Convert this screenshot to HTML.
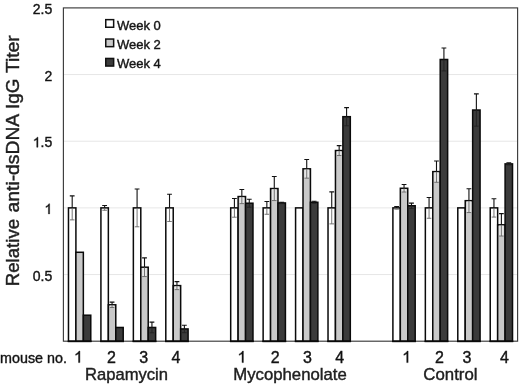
<!DOCTYPE html>
<html><head><meta charset="utf-8"><title>chart</title>
<style>html,body{margin:0;padding:0;background:#fff}body{width:520px;height:384px;overflow:hidden}</style></head>
<body>
<svg width="520" height="384" viewBox="0 0 520 384" style="display:block;filter:blur(0.35px);font-family:'Liberation Sans',sans-serif">
<style>text{stroke:#1a1a1a;stroke-width:0.4px}</style>
<rect width="520" height="384" fill="#fff"/>
<line x1="63.4" x2="517.6" y1="274.54" y2="274.54" stroke="#dfdfdf" stroke-width="0.8"/>
<line x1="63.4" x2="517.6" y1="207.88" y2="207.88" stroke="#dfdfdf" stroke-width="0.8"/>
<line x1="63.4" x2="517.6" y1="141.22" y2="141.22" stroke="#dfdfdf" stroke-width="0.8"/>
<line x1="63.4" x2="517.6" y1="74.56" y2="74.56" stroke="#dfdfdf" stroke-width="0.8"/>
<rect x="63.4" y="7.9" width="454.20" height="333.30" fill="none" stroke="#3c3c3c" stroke-width="1.15"/>
<rect x="68.48" y="207.88" width="7.43" height="133.32" fill="#ffffff" stroke="#0a0a0a" stroke-width="1.5"/>
<rect x="75.91" y="252.28" width="7.43" height="88.92" fill="#c9c9c9" stroke="#0a0a0a" stroke-width="1.5"/>
<rect x="83.34" y="315.20" width="7.43" height="26.00" fill="#3b3b3b" stroke="#0a0a0a" stroke-width="1.5"/>
<path d="M72.19 207.88V219.88M69.89 219.88H74.49" stroke="#666" stroke-width="0.9" fill="none"/>
<path d="M72.19 207.88V195.88M69.79 195.88H74.59" stroke="#111" stroke-width="1.1" fill="none"/>
<rect x="100.92" y="207.88" width="7.43" height="133.32" fill="#ffffff" stroke="#0a0a0a" stroke-width="1.5"/>
<rect x="108.35" y="304.80" width="7.43" height="36.40" fill="#c9c9c9" stroke="#0a0a0a" stroke-width="1.5"/>
<rect x="115.78" y="327.47" width="7.43" height="13.73" fill="#3b3b3b" stroke="#0a0a0a" stroke-width="1.5"/>
<path d="M104.63 207.88V210.28M102.33 210.28H106.93" stroke="#666" stroke-width="0.9" fill="none"/>
<path d="M104.63 207.88V205.48M102.23 205.48H107.03" stroke="#111" stroke-width="1.1" fill="none"/>
<rect x="109.76" y="305.55" width="4.6" height="1.92" fill="#e6e6e6"/>
<path d="M112.06 304.80V307.47M109.76 307.47H114.36" stroke="#666" stroke-width="0.9" fill="none"/>
<path d="M112.06 304.80V302.14M109.66 302.14H114.46" stroke="#111" stroke-width="1.1" fill="none"/>
<rect x="133.36" y="207.88" width="7.43" height="133.32" fill="#ffffff" stroke="#0a0a0a" stroke-width="1.5"/>
<rect x="140.79" y="267.21" width="7.43" height="73.99" fill="#c9c9c9" stroke="#0a0a0a" stroke-width="1.5"/>
<rect x="148.22" y="327.47" width="7.43" height="13.73" fill="#3b3b3b" stroke="#0a0a0a" stroke-width="1.5"/>
<path d="M137.08 207.88V226.81M134.78 226.81H139.38" stroke="#666" stroke-width="0.9" fill="none"/>
<path d="M137.08 207.88V188.95M134.68 188.95H139.48" stroke="#111" stroke-width="1.1" fill="none"/>
<rect x="142.21" y="267.96" width="4.6" height="8.58" fill="#e6e6e6"/>
<path d="M144.51 267.21V276.54M142.21 276.54H146.81" stroke="#666" stroke-width="0.9" fill="none"/>
<path d="M144.51 267.21V257.88M142.11 257.88H146.91" stroke="#111" stroke-width="1.1" fill="none"/>
<path d="M151.94 327.47V332.80M149.64 332.80H154.24" stroke="#222" stroke-width="0.9" fill="none"/>
<path d="M151.94 327.47V322.14M149.54 322.14H154.34" stroke="#111" stroke-width="1.1" fill="none"/>
<rect x="165.80" y="207.88" width="7.43" height="133.32" fill="#ffffff" stroke="#0a0a0a" stroke-width="1.5"/>
<rect x="173.23" y="285.61" width="7.43" height="55.59" fill="#c9c9c9" stroke="#0a0a0a" stroke-width="1.5"/>
<rect x="180.66" y="328.93" width="7.43" height="12.27" fill="#3b3b3b" stroke="#0a0a0a" stroke-width="1.5"/>
<path d="M169.52 207.88V221.48M167.22 221.48H171.82" stroke="#666" stroke-width="0.9" fill="none"/>
<path d="M169.52 207.88V194.28M167.12 194.28H171.92" stroke="#111" stroke-width="1.1" fill="none"/>
<rect x="174.65" y="286.36" width="4.6" height="3.25" fill="#e6e6e6"/>
<path d="M176.95 285.61V289.61M174.65 289.61H179.25" stroke="#666" stroke-width="0.9" fill="none"/>
<path d="M176.95 285.61V281.61M174.55 281.61H179.35" stroke="#111" stroke-width="1.1" fill="none"/>
<path d="M184.38 328.93V332.67M182.08 332.67H186.68" stroke="#222" stroke-width="0.9" fill="none"/>
<path d="M184.38 328.93V325.20M181.98 325.20H186.78" stroke="#111" stroke-width="1.1" fill="none"/>
<rect x="230.69" y="207.88" width="7.43" height="133.32" fill="#ffffff" stroke="#0a0a0a" stroke-width="1.5"/>
<rect x="238.12" y="196.55" width="7.43" height="144.65" fill="#c9c9c9" stroke="#0a0a0a" stroke-width="1.5"/>
<rect x="245.55" y="203.21" width="7.43" height="137.99" fill="#3b3b3b" stroke="#0a0a0a" stroke-width="1.5"/>
<path d="M234.41 207.88V217.21M232.11 217.21H236.71" stroke="#666" stroke-width="0.9" fill="none"/>
<path d="M234.41 207.88V198.55M232.01 198.55H236.81" stroke="#111" stroke-width="1.1" fill="none"/>
<rect x="239.54" y="197.30" width="4.6" height="6.32" fill="#e6e6e6"/>
<path d="M241.84 196.55V203.61M239.54 203.61H244.14" stroke="#666" stroke-width="0.9" fill="none"/>
<path d="M241.84 196.55V189.48M239.44 189.48H244.24" stroke="#111" stroke-width="1.1" fill="none"/>
<path d="M249.27 203.21V207.21M246.97 207.21H251.57" stroke="#222" stroke-width="0.9" fill="none"/>
<path d="M249.27 203.21V199.21M246.87 199.21H251.67" stroke="#111" stroke-width="1.1" fill="none"/>
<rect x="263.13" y="207.88" width="7.43" height="133.32" fill="#ffffff" stroke="#0a0a0a" stroke-width="1.5"/>
<rect x="270.56" y="188.55" width="7.43" height="152.65" fill="#c9c9c9" stroke="#0a0a0a" stroke-width="1.5"/>
<rect x="277.99" y="202.95" width="7.43" height="138.25" fill="#3b3b3b" stroke="#0a0a0a" stroke-width="1.5"/>
<path d="M266.85 207.88V214.28M264.55 214.28H269.15" stroke="#666" stroke-width="0.9" fill="none"/>
<path d="M266.85 207.88V201.48M264.45 201.48H269.25" stroke="#111" stroke-width="1.1" fill="none"/>
<rect x="271.98" y="189.30" width="4.6" height="11.25" fill="#e6e6e6"/>
<path d="M274.28 188.55V200.55M271.98 200.55H276.58" stroke="#666" stroke-width="0.9" fill="none"/>
<path d="M274.28 188.55V176.55M271.88 176.55H276.68" stroke="#111" stroke-width="1.1" fill="none"/>
<path d="M281.71 202.95V203.61M279.41 203.61H284.01" stroke="#222" stroke-width="0.9" fill="none"/>
<path d="M281.71 202.95V202.28M279.31 202.28H284.11" stroke="#111" stroke-width="1.1" fill="none"/>
<rect x="295.58" y="207.88" width="7.43" height="133.32" fill="#ffffff" stroke="#0a0a0a" stroke-width="1.5"/>
<rect x="303.01" y="168.82" width="7.43" height="172.38" fill="#c9c9c9" stroke="#0a0a0a" stroke-width="1.5"/>
<rect x="310.44" y="202.28" width="7.43" height="138.92" fill="#3b3b3b" stroke="#0a0a0a" stroke-width="1.5"/>
<rect x="304.42" y="169.57" width="4.6" height="8.58" fill="#e6e6e6"/>
<path d="M306.72 168.82V178.15M304.42 178.15H309.02" stroke="#666" stroke-width="0.9" fill="none"/>
<path d="M306.72 168.82V159.48M304.32 159.48H309.12" stroke="#111" stroke-width="1.1" fill="none"/>
<path d="M314.15 202.28V203.35M311.85 203.35H316.45" stroke="#222" stroke-width="0.9" fill="none"/>
<path d="M314.15 202.28V201.21M311.75 201.21H316.55" stroke="#111" stroke-width="1.1" fill="none"/>
<rect x="328.02" y="207.88" width="7.43" height="133.32" fill="#ffffff" stroke="#0a0a0a" stroke-width="1.5"/>
<rect x="335.45" y="150.55" width="7.43" height="190.65" fill="#c9c9c9" stroke="#0a0a0a" stroke-width="1.5"/>
<rect x="342.88" y="116.69" width="7.43" height="224.51" fill="#3b3b3b" stroke="#0a0a0a" stroke-width="1.5"/>
<path d="M331.73 207.88V223.88M329.43 223.88H334.03" stroke="#666" stroke-width="0.9" fill="none"/>
<path d="M331.73 207.88V191.88M329.33 191.88H334.13" stroke="#111" stroke-width="1.1" fill="none"/>
<rect x="336.86" y="151.30" width="4.6" height="4.18" fill="#e6e6e6"/>
<path d="M339.16 150.55V155.49M336.86 155.49H341.46" stroke="#666" stroke-width="0.9" fill="none"/>
<path d="M339.16 150.55V145.62M336.76 145.62H341.56" stroke="#111" stroke-width="1.1" fill="none"/>
<path d="M346.59 116.69V125.75M344.29 125.75H348.89" stroke="#222" stroke-width="0.9" fill="none"/>
<path d="M346.59 116.69V107.62M344.19 107.62H348.99" stroke="#111" stroke-width="1.1" fill="none"/>
<rect x="392.90" y="207.88" width="7.43" height="133.32" fill="#ffffff" stroke="#0a0a0a" stroke-width="1.5"/>
<rect x="400.33" y="188.28" width="7.43" height="152.92" fill="#c9c9c9" stroke="#0a0a0a" stroke-width="1.5"/>
<rect x="407.76" y="205.75" width="7.43" height="135.45" fill="#3b3b3b" stroke="#0a0a0a" stroke-width="1.5"/>
<path d="M396.62 207.88V209.21M394.32 209.21H398.92" stroke="#666" stroke-width="0.9" fill="none"/>
<path d="M396.62 207.88V206.55M394.22 206.55H399.02" stroke="#111" stroke-width="1.1" fill="none"/>
<rect x="401.75" y="189.03" width="4.6" height="2.98" fill="#e6e6e6"/>
<path d="M404.05 188.28V192.01M401.75 192.01H406.35" stroke="#666" stroke-width="0.9" fill="none"/>
<path d="M404.05 188.28V184.55M401.65 184.55H406.45" stroke="#111" stroke-width="1.1" fill="none"/>
<path d="M411.48 205.75V208.41M409.18 208.41H413.78" stroke="#222" stroke-width="0.9" fill="none"/>
<path d="M411.48 205.75V203.08M409.08 203.08H413.88" stroke="#111" stroke-width="1.1" fill="none"/>
<rect x="425.35" y="207.88" width="7.43" height="133.32" fill="#ffffff" stroke="#0a0a0a" stroke-width="1.5"/>
<rect x="432.78" y="171.62" width="7.43" height="169.58" fill="#c9c9c9" stroke="#0a0a0a" stroke-width="1.5"/>
<rect x="440.21" y="59.49" width="7.43" height="281.71" fill="#3b3b3b" stroke="#0a0a0a" stroke-width="1.5"/>
<path d="M429.06 207.88V218.28M426.76 218.28H431.36" stroke="#666" stroke-width="0.9" fill="none"/>
<path d="M429.06 207.88V197.48M426.66 197.48H431.46" stroke="#111" stroke-width="1.1" fill="none"/>
<rect x="434.19" y="172.37" width="4.6" height="9.92" fill="#e6e6e6"/>
<path d="M436.49 171.62V182.28M434.19 182.28H438.79" stroke="#666" stroke-width="0.9" fill="none"/>
<path d="M436.49 171.62V160.95M434.09 160.95H438.89" stroke="#111" stroke-width="1.1" fill="none"/>
<path d="M443.92 59.49V70.96M441.62 70.96H446.22" stroke="#222" stroke-width="0.9" fill="none"/>
<path d="M443.92 59.49V48.03M441.52 48.03H446.32" stroke="#111" stroke-width="1.1" fill="none"/>
<rect x="457.79" y="207.88" width="7.43" height="133.32" fill="#ffffff" stroke="#0a0a0a" stroke-width="1.5"/>
<rect x="465.22" y="200.68" width="7.43" height="140.52" fill="#c9c9c9" stroke="#0a0a0a" stroke-width="1.5"/>
<rect x="472.65" y="110.02" width="7.43" height="231.18" fill="#3b3b3b" stroke="#0a0a0a" stroke-width="1.5"/>
<rect x="466.64" y="201.43" width="4.6" height="11.12" fill="#e6e6e6"/>
<path d="M468.94 200.68V212.55M466.64 212.55H471.24" stroke="#666" stroke-width="0.9" fill="none"/>
<path d="M468.94 200.68V188.82M466.54 188.82H471.34" stroke="#111" stroke-width="1.1" fill="none"/>
<path d="M476.37 110.02V126.15M474.07 126.15H478.67" stroke="#222" stroke-width="0.9" fill="none"/>
<path d="M476.37 110.02V93.89M473.97 93.89H478.77" stroke="#111" stroke-width="1.1" fill="none"/>
<rect x="490.23" y="207.88" width="7.43" height="133.32" fill="#ffffff" stroke="#0a0a0a" stroke-width="1.5"/>
<rect x="497.66" y="224.81" width="7.43" height="116.39" fill="#c9c9c9" stroke="#0a0a0a" stroke-width="1.5"/>
<rect x="505.09" y="163.88" width="7.43" height="177.32" fill="#3b3b3b" stroke="#0a0a0a" stroke-width="1.5"/>
<path d="M493.95 207.88V217.08M491.65 217.08H496.25" stroke="#666" stroke-width="0.9" fill="none"/>
<path d="M493.95 207.88V198.68M491.55 198.68H496.35" stroke="#111" stroke-width="1.1" fill="none"/>
<rect x="499.08" y="225.56" width="4.6" height="10.45" fill="#e6e6e6"/>
<path d="M501.38 224.81V236.01M499.08 236.01H503.68" stroke="#666" stroke-width="0.9" fill="none"/>
<path d="M501.38 224.81V213.61M498.98 213.61H503.78" stroke="#111" stroke-width="1.1" fill="none"/>
<path d="M508.81 163.88V164.95M506.51 164.95H511.11" stroke="#222" stroke-width="0.9" fill="none"/>
<path d="M508.81 163.88V162.82M506.41 162.82H511.21" stroke="#111" stroke-width="1.1" fill="none"/>
<line x1="67.73" x2="91.52" y1="341.34999999999997" y2="341.34999999999997" stroke="#0a0a0a" stroke-width="1.7"/>
<line x1="100.17" x2="123.96" y1="341.34999999999997" y2="341.34999999999997" stroke="#0a0a0a" stroke-width="1.7"/>
<line x1="132.61" x2="156.40" y1="341.34999999999997" y2="341.34999999999997" stroke="#0a0a0a" stroke-width="1.7"/>
<line x1="165.05" x2="188.84" y1="341.34999999999997" y2="341.34999999999997" stroke="#0a0a0a" stroke-width="1.7"/>
<line x1="229.94" x2="253.73" y1="341.34999999999997" y2="341.34999999999997" stroke="#0a0a0a" stroke-width="1.7"/>
<line x1="262.38" x2="286.17" y1="341.34999999999997" y2="341.34999999999997" stroke="#0a0a0a" stroke-width="1.7"/>
<line x1="294.83" x2="318.62" y1="341.34999999999997" y2="341.34999999999997" stroke="#0a0a0a" stroke-width="1.7"/>
<line x1="327.27" x2="351.06" y1="341.34999999999997" y2="341.34999999999997" stroke="#0a0a0a" stroke-width="1.7"/>
<line x1="392.15" x2="415.94" y1="341.34999999999997" y2="341.34999999999997" stroke="#0a0a0a" stroke-width="1.7"/>
<line x1="424.60" x2="448.39" y1="341.34999999999997" y2="341.34999999999997" stroke="#0a0a0a" stroke-width="1.7"/>
<line x1="457.04" x2="480.83" y1="341.34999999999997" y2="341.34999999999997" stroke="#0a0a0a" stroke-width="1.7"/>
<line x1="489.48" x2="513.27" y1="341.34999999999997" y2="341.34999999999997" stroke="#0a0a0a" stroke-width="1.7"/>
<text x="52.20" y="13.90" font-size="14.0" text-anchor="end" fill="#111">2.5</text>
<text x="52.20" y="80.56" font-size="14.0" text-anchor="end" fill="#111">2</text>
<path d="M37.96 147.22L36.73 147.22L36.73 139.38Q36.28 139.80 35.56 140.23Q34.84 140.65 34.26 140.86L34.26 139.67Q35.30 139.19 36.07 138.50Q36.84 137.81 37.16 137.16L37.96 137.16Z" fill="#111" stroke="#1a1a1a" stroke-width="0.4"/>
<text x="52.20" y="147.22" font-size="14.0" text-anchor="end" fill="#111">.5</text>
<path d="M49.63 213.88L48.40 213.88L48.40 206.04Q47.96 206.46 47.24 206.89Q46.51 207.31 45.94 207.52L45.94 206.33Q46.97 205.85 47.75 205.16Q48.52 204.47 48.84 203.82L49.63 203.82Z" fill="#111" stroke="#1a1a1a" stroke-width="0.4"/>
<text x="52.20" y="280.54" font-size="14.0" text-anchor="end" fill="#111">0.5</text>
<text transform="translate(19.3 286.2) rotate(-90)" font-size="18.4" fill="#222" textLength="67.3" lengthAdjust="spacingAndGlyphs">Relative</text>
<text transform="translate(19.3 212.4) rotate(-90)" font-size="18.4" fill="#222" textLength="98.6" lengthAdjust="spacingAndGlyphs">anti-dsDNA</text>
<text transform="translate(19.3 109) rotate(-90)" font-size="18.4" fill="#222" textLength="30.3" lengthAdjust="spacingAndGlyphs">IgG</text>
<text transform="translate(19.3 72.9) rotate(-90)" font-size="18.4" fill="#222" textLength="37.6" lengthAdjust="spacingAndGlyphs">Titer</text>
<rect x="105.75" y="19.65" width="7.9" height="7.6" fill="#ffffff" stroke="#111" stroke-width="1.5"/>
<text x="117" y="29.60" font-size="13" fill="#111">Week 0</text>
<rect x="105.75" y="39.05" width="7.9" height="7.6" fill="#c9c9c9" stroke="#111" stroke-width="1.5"/>
<text x="117" y="49.00" font-size="13" fill="#111">Week 2</text>
<rect x="105.75" y="58.45" width="7.9" height="7.6" fill="#3b3b3b" stroke="#111" stroke-width="1.5"/>
<text x="117" y="68.40" font-size="13" fill="#111">Week 4</text>
<text x="0.1" y="362.6" font-size="14.3" fill="#111">mouse no.</text>
<path d="M79.91 362.60L78.51 362.60L78.51 353.64Q78.00 354.12 77.17 354.61Q76.35 355.09 75.69 355.33L75.69 353.97Q76.87 353.42 77.76 352.63Q78.64 351.84 79.01 351.10L79.91 351.10Z" fill="#111" stroke="#1a1a1a" stroke-width="0.4"/>
<path d="M243.41 362.60L242.01 362.60L242.01 353.64Q241.50 354.12 240.67 354.61Q239.85 355.09 239.19 355.33L239.19 353.97Q240.37 353.42 241.26 352.63Q242.14 351.84 242.51 351.10L243.41 351.10Z" fill="#111" stroke="#1a1a1a" stroke-width="0.4"/>
<path d="M408.11 362.60L406.71 362.60L406.71 353.64Q406.20 354.12 405.37 354.61Q404.55 355.09 403.89 355.33L403.89 353.97Q405.07 353.42 405.96 352.63Q406.84 351.84 407.21 351.10L408.11 351.10Z" fill="#111" stroke="#1a1a1a" stroke-width="0.4"/>
<text x="111.40" y="362.6" font-size="16" text-anchor="middle" fill="#111">2</text>
<text x="275.10" y="362.6" font-size="16" text-anchor="middle" fill="#111">2</text>
<text x="439.40" y="362.6" font-size="16" text-anchor="middle" fill="#111">2</text>
<text x="143.75" y="362.6" font-size="16" text-anchor="middle" fill="#111">3</text>
<text x="307.50" y="362.6" font-size="16" text-anchor="middle" fill="#111">3</text>
<text x="466.90" y="362.6" font-size="16" text-anchor="middle" fill="#111">3</text>
<text x="175.90" y="362.6" font-size="16" text-anchor="middle" fill="#111">4</text>
<text x="339.60" y="362.6" font-size="16" text-anchor="middle" fill="#111">4</text>
<text x="504.40" y="362.6" font-size="16" text-anchor="middle" fill="#111">4</text>
<text x="85.00" y="379.5" font-size="16.4" fill="#222" textLength="83" lengthAdjust="spacingAndGlyphs">Rapamycin</text>
<text x="233.25" y="379.5" font-size="16.4" fill="#222" textLength="113.5" lengthAdjust="spacingAndGlyphs">Mycophenolate</text>
<text x="423.30" y="379.5" font-size="16.4" fill="#222" textLength="54.2" lengthAdjust="spacingAndGlyphs">Control</text>
</svg>
</body></html>
